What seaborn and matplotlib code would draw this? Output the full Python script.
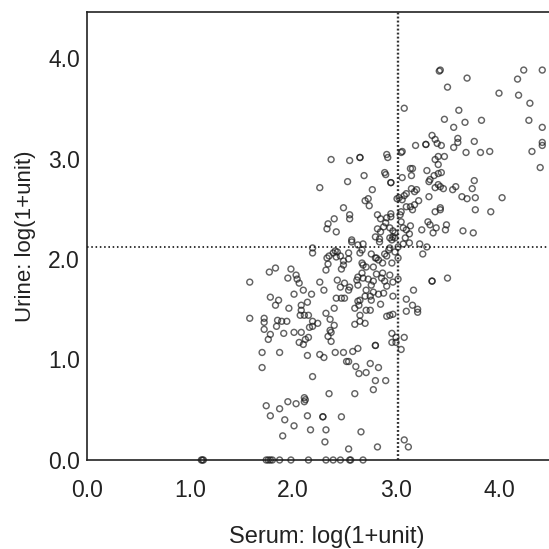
import matplotlib
matplotlib.use("Agg")
import matplotlib.pyplot as plt
import seaborn as sns
import pandas as pd

serum_upper = [3.42,3.43,3.69,3.50,4.00,4.24,4.42,4.18,4.19,4.30,4.29,4.42,4.42,4.42,4.32,4.40,3.08,3.61,3.47,3.67,3.83,3.56,3.35,3.38,3.60,3.60,3.40,3.44,3.56,3.76,3.68,3.82,3.91,3.19,3.29,3.29,3.06,3.05,2.37,2.55,2.65,2.65,2.91,2.92,3.41,3.38,3.47,3.41,3.14,3.16,3.30,3.44,3.41,3.37,3.15,3.06,2.89,2.90,2.69,2.53,2.26,2.95,2.95,3.33,3.32,3.41,3.38,3.43,3.46,3.76,3.74,3.58,3.55,2.77,3.15,3.20,3.18,3.10,3.08,3.01,3.03,3.06,3.32,3.64,3.69,3.77,4.03,2.73,2.70,2.74,3.22,3.18,3.14,3.16,3.10,2.49,3.43,3.43,3.38,3.77,3.92,2.55,2.55,2.40,2.34,2.33,2.42,2.82,2.85,2.91,2.95,2.95,3.05,3.04,2.90,2.88,2.82,2.85,2.94,2.97,2.99,3.05,3.07,3.14,3.13,3.10,3.31,3.33,3.39,3.25,3.36,3.49,3.48,3.65,3.75,2.57,2.80,2.84,2.97,3.09,2.94]
urine_upper = [3.87,3.88,3.80,3.71,3.65,3.88,3.88,3.79,3.63,3.55,3.38,3.31,3.16,3.13,3.07,2.91,3.50,3.48,3.39,3.36,3.38,3.31,3.23,3.19,3.20,3.16,3.15,3.13,3.11,3.17,3.06,3.06,3.07,3.13,3.14,3.14,3.07,3.06,2.99,2.98,3.01,3.01,3.04,3.01,3.02,2.99,3.02,2.94,2.90,2.90,2.88,2.86,2.85,2.83,2.83,2.81,2.86,2.84,2.83,2.77,2.71,2.76,2.76,2.79,2.77,2.74,2.71,2.72,2.70,2.78,2.70,2.72,2.69,2.69,2.70,2.69,2.67,2.65,2.63,2.60,2.61,2.59,2.62,2.62,2.60,2.61,2.61,2.60,2.58,2.53,2.58,2.54,2.52,2.49,2.52,2.51,2.51,2.49,2.47,2.49,2.47,2.44,2.40,2.40,2.35,2.30,2.27,2.44,2.40,2.41,2.45,2.42,2.47,2.44,2.36,2.32,2.30,2.27,2.31,2.28,2.26,2.37,2.31,2.33,2.25,2.29,2.37,2.34,2.31,2.29,2.26,2.34,2.29,2.28,2.26,2.19,2.22,2.20,2.22,2.21,2.21]

serum_lower = [2.19,2.19,2.41,2.43,2.39,2.35,2.33,2.46,2.42,2.54,2.54,2.49,2.49,2.34,2.32,2.47,2.57,2.63,2.68,2.65,2.67,2.76,2.80,2.91,2.89,2.83,2.81,2.84,2.96,2.99,3.02,3.07,3.13,2.94,2.99,2.93,3.23,3.30,3.26,2.96,3.02,2.87,2.67,2.68,2.71,2.78,2.67,2.63,2.68,2.73,2.62,2.63,2.55,2.81,2.87,2.86,2.78,2.76,2.94,3.02,2.97,2.89,2.91,2.50,2.46,2.54,2.43,1.77,1.83,1.58,1.98,2.03,2.04,2.06,1.95,2.10,2.01,2.18,2.26,2.30,3.35,3.35,3.50,3.17,2.97,3.10,3.16,3.21,3.21,3.10,2.88,2.83,2.78,2.71,2.75,2.76,2.70,2.65,2.63,2.60,2.85,2.75,2.71,2.64,2.50,2.42,2.47,2.40,1.78,1.86,1.83,1.96,2.14,2.08,2.08,2.07,2.11,2.15,2.32,2.36,2.19,2.24,2.19,2.16,2.40,1.58,1.72,1.72,1.85,1.89,1.94,1.84,1.72,1.78,1.76,1.91,2.01,2.08,2.15,2.12,2.06,2.10,2.36,2.34,2.37,2.37,2.91,2.94,2.97,2.65,2.65,2.60,2.70,2.96,3.00,3.08,2.96,3.00,3.05,2.80,2.80,1.70,1.87,2.14,2.26,2.30,2.41,2.49,2.58,2.63,2.52,2.54,2.61,2.64,2.71,2.75,2.83,1.70,2.19,2.80,2.90,2.78,2.35,2.60,2.11,2.12,2.11,2.03,1.95,1.87,1.74,1.78,1.92,2.14,2.29,2.29,2.47,2.01,2.17,2.32,2.66,1.90,2.31,2.54,2.82,3.08,3.12]
urine_lower = [2.11,2.06,2.08,2.07,2.06,2.03,2.01,2.03,2.02,2.06,2.00,1.98,1.94,1.95,1.89,1.90,2.17,2.14,2.15,2.06,2.09,2.05,2.01,2.03,2.05,1.99,2.01,2.17,2.19,2.21,2.12,2.15,2.16,2.11,2.07,2.09,2.15,2.12,2.05,1.96,2.01,1.96,1.96,1.94,1.92,1.92,1.86,1.82,1.81,1.80,1.79,1.74,1.72,1.85,1.86,1.81,1.78,1.74,1.84,1.80,1.77,1.78,1.73,1.76,1.72,1.69,1.79,1.87,1.91,1.77,1.90,1.84,1.80,1.76,1.81,1.69,1.65,1.65,1.77,1.69,1.78,1.78,1.81,1.69,1.63,1.60,1.54,1.50,1.47,1.48,1.66,1.65,1.67,1.69,1.63,1.59,1.63,1.59,1.58,1.51,1.55,1.49,1.49,1.54,1.61,1.61,1.61,1.51,1.62,1.59,1.54,1.51,1.57,1.54,1.49,1.44,1.44,1.44,1.46,1.40,1.38,1.36,1.33,1.32,1.34,1.41,1.41,1.37,1.39,1.38,1.38,1.33,1.30,1.25,1.20,1.26,1.27,1.27,1.22,1.20,1.17,1.15,1.29,1.23,1.27,1.18,1.43,1.44,1.45,1.44,1.38,1.35,1.36,1.26,1.22,1.22,1.17,1.17,1.10,1.14,1.14,1.07,1.07,1.04,1.05,1.02,1.07,1.07,1.08,1.11,0.98,0.98,0.93,0.86,0.87,0.96,0.92,0.92,0.83,0.79,0.79,0.70,0.66,0.66,0.62,0.60,0.58,0.56,0.58,0.51,0.54,0.44,0.40,0.44,0.43,0.43,0.43,0.34,0.30,0.30,0.28,0.24,0.18,0.11,0.13,0.20,0.13]

serum_zero = [1.11,1.12,1.13,1.74,1.76,1.78,1.80,1.87,1.98,2.15,2.32,2.39,2.46,2.55,2.56,2.68]
urine_zero = [0.0] * len(serum_zero)

x_ticks = [0.0, 1.0, 2.0, 3.0, 4.0]
y_ticks = [0.0, 1.0, 2.0, 3.0, 4.0]
serum_cut = 3.02
urine_cut = 2.12

df = pd.DataFrame({
    "serum": serum_upper + serum_lower + serum_zero,
    "urine": urine_upper + urine_lower + urine_zero,
})

sns.set_theme(style="white")
plt.rcParams["font.family"] = ["Liberation Sans", "DejaVu Sans"]

fig = plt.figure(figsize=(5.49, 5.49), dpi=100)
ax = fig.add_axes([87 / 549, 89 / 549, 462 / 549, 448 / 549])

sns.scatterplot(data=df, x="serum", y="urine", ax=ax, marker="o", s=18,
                facecolor="none", edgecolor="#1a1a1a", linewidth=1.05,
                alpha=0.68, clip_on=False, zorder=3)

ax.axvline(serum_cut, color="#333333", lw=1.7, ls=(0, (0.8, 0.9)), zorder=2)
ax.axhline(urine_cut, color="#333333", lw=1.4, ls=(0, (0.8, 1.4)), zorder=2)

ax.set_xlim(0, 462 / 103)
ax.set_ylim(0, 448 / 100.5)
ax.set_xticks(x_ticks)
ax.set_yticks(y_ticks)
ax.set_xticklabels([f"{v:.1f}" for v in x_ticks])
ax.set_yticklabels([f"{v:.1f}" for v in y_ticks])
ax.tick_params(axis="x", length=0, labelsize=16.5, labelcolor="#222222", pad=14)
ax.tick_params(axis="y", length=0, labelsize=16.5, labelcolor="#222222", pad=5)

ax.set_xlabel("Serum: log(1+unit)", fontsize=17, color="#222222", labelpad=17, x=0.52)
ax.set_ylabel("Urine: log(1+unit)", fontsize=16, color="#222222", labelpad=9)

for name in ["left", "top", "bottom"]:
    ax.spines[name].set_visible(True)
    ax.spines[name].set_color("#222222")
    ax.spines[name].set_linewidth(1.2)
ax.spines["right"].set_visible(False)

fig.savefig("out.png", dpi=100)
